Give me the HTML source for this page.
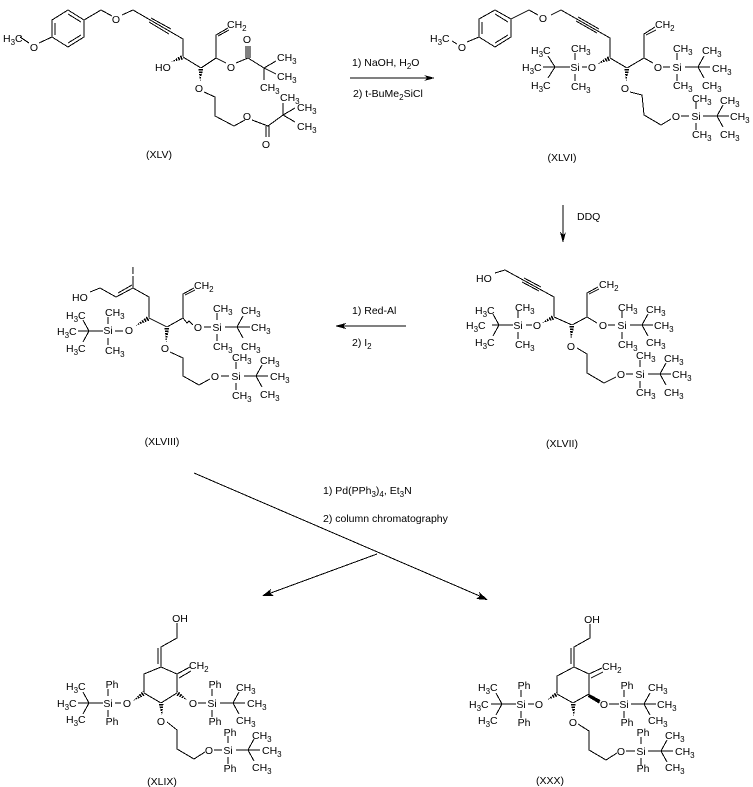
<!DOCTYPE html>
<html><head><meta charset="utf-8"><style>
html,body{margin:0;padding:0;background:#fff;width:753px;height:787px;overflow:hidden}
svg{display:block}
path.b{fill:none;stroke:#000;stroke-width:1;shape-rendering:crispEdges}
polygon{shape-rendering:crispEdges}
text{font-family:"Liberation Sans",sans-serif;font-size:10.5px;fill:#000;stroke:none}
tspan.s{font-size:8px}
text.m{text-anchor:middle}
.w{stroke:#fff;stroke-width:7;stroke-dasharray:1 1.6;fill:none;shape-rendering:crispEdges}
</style></head><body>
<svg width="753" height="787" viewBox="0 0 753 787" xmlns="http://www.w3.org/2000/svg">
<rect width="753" height="787" fill="#fff"/>

<!-- XLV -->
<path class="b" d="M52 20L68 10L84 20V37L68 47L52 37ZM55 23V35M68 14L81 22M68 43L81 35M20 37L29 43M39 43L52 37M84 20L101 10L112 16M122 15L133 10L183 39V57L201 68L216 58V35L228 28M218 36L229 30M151 18L171 29M149 22L169 34M216 58L226 63M236 63L248 58V46M246 58V46M250 58V46M248 58L264 68L276 61M264 68L276 74M264 68V80M204 92L215 97V116L234 126L245 120M252 120L268 126L283 115V103M283 115L295 108M283 115L295 122M266 126V137M269 126V137"/>
<polygon points="184,59.300 182,54.700 171,62"/><line class="w" x1="183" y1="57" x2="171" y2="62"/>
<polygon points="198.500,68 203.500,68 200,82"/><line class="w" x1="201" y1="68" x2="200" y2="82"/>
<text x="3" y="42">H<tspan class="s" dy="3">3</tspan><tspan dy="-3">C</tspan></text>
<text class="m" x="34" y="51">O</text><text class="m" x="116" y="23">O</text>
<text x="227" y="28">CH<tspan class="s" dy="3">2</tspan></text>
<text x="155" y="71">HO</text>
<text class="m" x="231" y="71">O</text><text class="m" x="247" y="43">O</text>
<text x="277" y="61">CH<tspan class="s" dy="3">3</tspan></text>
<text x="277" y="80">CH<tspan class="s" dy="3">3</tspan></text>
<text x="260" y="91">CH<tspan class="s" dy="3">3</tspan></text>
<text class="m" x="199" y="92">O</text>
<text class="m" x="247" y="120">O</text>
<text class="m" x="266" y="148">O</text>
<text x="280" y="101">CH<tspan class="s" dy="3">3</tspan></text>
<text x="297" y="111">CH<tspan class="s" dy="3">3</tspan></text>
<text x="297" y="130">CH<tspan class="s" dy="3">3</tspan></text>
<text class="m" x="159" y="158">(XLV)</text>

<!-- arrow 1 -->
<path class="b" d="M350 78H430"/><polygon points="435,78 424,75 427,78 424,81"/>
<text x="352" y="66">1) NaOH, H<tspan class="s" dy="3">2</tspan><tspan dy="-3">O</tspan></text>
<text x="353" y="97">2) t-BuMe<tspan class="s" dy="3">2</tspan><tspan dy="-3">SiCl</tspan></text>

<!-- XLVI -->
<path class="b" d="M479 19L495 10L511 19V37L495 47L479 37ZM482 22V34M495 14L508 22M495 43L508 35M452 41L457 44M467 42L479 37M511 19L529 10L538 15M551 15L561 10L610 38V58L627 68L644 58V34L655 27M646 35L656 30M578 17L599 29M576 21L597 33M644 58L653 63M630 92L642 95L644 115L661 125L671 119M663 67H670M677 53V60M677 74V81M685 67H698M698 67L704 56M698 67L704 78M698 67H710M582 67H587M570 67H543M555 67L548 56M555 67L548 78M575 53V60M575 74V81M681 116H689M696 102V109M696 123V130M703 116H717M717 116L723 105M717 116L723 127M717 116H729"/>
<polygon points="611,60.300 609,55.700 597,64"/><line class="w" x1="610" y1="58" x2="597" y2="64"/>
<polygon points="624.500,68 629.500,68 626,82"/><line class="w" x1="627" y1="68" x2="626" y2="82"/>
<text x="430" y="42">H<tspan class="s" dy="3">3</tspan><tspan dy="-3">C</tspan></text>
<text class="m" x="462" y="51">O</text><text class="m" x="543" y="22">O</text>
<text x="655" y="28">CH<tspan class="s" dy="3">2</tspan></text>
<text x="531" y="54">H<tspan class="s" dy="3">3</tspan><tspan dy="-3">C</tspan></text>
<text x="522" y="71">H<tspan class="s" dy="3">3</tspan><tspan dy="-3">C</tspan></text>
<text x="531" y="89">H<tspan class="s" dy="3">3</tspan><tspan dy="-3">C</tspan></text>
<text x="571" y="52">CH<tspan class="s" dy="3">3</tspan></text>
<text x="571" y="90">CH<tspan class="s" dy="3">3</tspan></text>
<text class="m" x="575" y="71">Si</text><text class="m" x="592" y="71">O</text>
<text class="m" x="658" y="71">O</text><text class="m" x="677" y="71">Si</text>
<text x="673" y="52">CH<tspan class="s" dy="3">3</tspan></text>
<text x="673" y="89">CH<tspan class="s" dy="3">3</tspan></text>
<text x="702" y="54">CH<tspan class="s" dy="3">3</tspan></text>
<text x="702" y="89">CH<tspan class="s" dy="3">3</tspan></text>
<text x="712" y="72">CH<tspan class="s" dy="3">3</tspan></text>
<text class="m" x="625" y="92">O</text>
<text class="m" x="676" y="120">O</text><text class="m" x="696" y="120">Si</text>
<text x="692" y="102">CH<tspan class="s" dy="3">3</tspan></text>
<text x="692" y="138">CH<tspan class="s" dy="3">3</tspan></text>
<text x="720" y="104">CH<tspan class="s" dy="3">3</tspan></text>
<text x="730" y="120">CH<tspan class="s" dy="3">3</tspan></text>
<text x="720" y="138">CH<tspan class="s" dy="3">3</tspan></text>
<text class="m" x="562" y="161">(XLVI)</text>

<!-- arrow 2 -->
<path class="b" d="M563 205V238"/><polygon points="563,243 560,232 563,235 566,232"/>
<text x="577" y="220">DDQ</text>

<!-- XLVII -->
<path class="b" d="M495 273L505 270L554 297V317L572 325L587 317V293L598 287M589 294L599 289M524 278L541 287M522 282L539 291M587 317L597 323M577 348L587 354V373L604 383L616 377M492 325H513M526 325H532M518 311V318M518 332V339M499 325L493 314M499 325L493 336M608 325H615M622 311V318M622 332V339M630 325H653M642 325L648 314M642 325L648 336M626 374H633M640 360V367M640 381V388M648 374H671M660 374L666 363M660 374L666 385"/>
<polygon points="555,319.300 553,314.700 542,323"/><line class="w" x1="554" y1="317" x2="542" y2="323"/>
<polygon points="569.500,325 574.500,325 571,340"/><line class="w" x1="572" y1="325" x2="571" y2="340"/>
<text x="476" y="282">HO</text>
<text x="599" y="288">CH<tspan class="s" dy="3">2</tspan></text>
<text x="475" y="314">H<tspan class="s" dy="3">3</tspan><tspan dy="-3">C</tspan></text>
<text x="466" y="329">H<tspan class="s" dy="3">3</tspan><tspan dy="-3">C</tspan></text>
<text x="475" y="346">H<tspan class="s" dy="3">3</tspan><tspan dy="-3">C</tspan></text>
<text x="515" y="311">CH<tspan class="s" dy="3">3</tspan></text>
<text x="515" y="348">CH<tspan class="s" dy="3">3</tspan></text>
<text class="m" x="518" y="329">Si</text><text class="m" x="537" y="329">O</text>
<text class="m" x="603" y="329">O</text><text class="m" x="622" y="329">Si</text>
<text x="618" y="311">CH<tspan class="s" dy="3">3</tspan></text>
<text x="618" y="348">CH<tspan class="s" dy="3">3</tspan></text>
<text x="646" y="313">CH<tspan class="s" dy="3">3</tspan></text>
<text x="654" y="329">CH<tspan class="s" dy="3">3</tspan></text>
<text x="646" y="346">CH<tspan class="s" dy="3">3</tspan></text>
<text class="m" x="571" y="350">O</text>
<text class="m" x="621" y="378">O</text><text class="m" x="640" y="378">Si</text>
<text x="636" y="359">CH<tspan class="s" dy="3">3</tspan></text>
<text x="636" y="396">CH<tspan class="s" dy="3">3</tspan></text>
<text x="664" y="362">CH<tspan class="s" dy="3">3</tspan></text>
<text x="672" y="378">CH<tspan class="s" dy="3">3</tspan></text>
<text x="664" y="396">CH<tspan class="s" dy="3">3</tspan></text>
<text class="m" x="562" y="447">(XLVII)</text>

<!-- arrow 3 -->
<path class="b" d="M406 326H340"/><polygon points="335,326 346,323 343,326 346,329"/>
<text x="352" y="314">1) Red-Al</text>
<text x="352" y="346">2) I<tspan class="s" dy="3">2</tspan></text>

<!-- XLVIII -->
<path class="b" d="M90 292L100 288L116 297L133 288L149 297V318L167 327L183 318V294L194 288M185 295L195 290M118 293L132 285M133 276V288M183 318L187 323L189 321L193 325M170 352L183 358V376L199 385L210 379M78 331H103M89 331L83 320M89 331L83 342M115 331H123M108 317V324M108 338V345M204 327H211M217 313V320M217 334V341M225 327H250M237 327L243 316M237 327L243 338M221 376H229M236 362V369M236 383V390M244 376H268M256 376L262 365M256 376L262 387"/>
<polygon points="150,320.300 148,315.700 135,326"/><line class="w" x1="149" y1="318" x2="135" y2="326"/>
<polygon points="164.500,327 169.500,327 166,343"/><line class="w" x1="167" y1="327" x2="166" y2="343"/>
<text x="72" y="301">HO</text>
<text class="m" x="133" y="274">I</text>
<text x="194" y="289">CH<tspan class="s" dy="3">2</tspan></text>
<text x="66" y="319">H<tspan class="s" dy="3">3</tspan><tspan dy="-3">C</tspan></text>
<text x="57" y="335">H<tspan class="s" dy="3">3</tspan><tspan dy="-3">C</tspan></text>
<text x="66" y="352">H<tspan class="s" dy="3">3</tspan><tspan dy="-3">C</tspan></text>
<text x="105" y="316">CH<tspan class="s" dy="3">3</tspan></text>
<text x="105" y="354">CH<tspan class="s" dy="3">3</tspan></text>
<text class="m" x="108" y="334">Si</text><text class="m" x="129" y="334">O</text>
<text class="m" x="198" y="331">O</text><text class="m" x="217" y="331">Si</text>
<text x="213" y="312">CH<tspan class="s" dy="3">3</tspan></text>
<text x="213" y="350">CH<tspan class="s" dy="3">3</tspan></text>
<text x="241" y="314">CH<tspan class="s" dy="3">3</tspan></text>
<text x="251" y="331">CH<tspan class="s" dy="3">3</tspan></text>
<text x="241" y="350">CH<tspan class="s" dy="3">3</tspan></text>
<text class="m" x="165" y="352">O</text>
<text class="m" x="215" y="380">O</text><text class="m" x="236" y="380">Si</text>
<text x="232" y="361">CH<tspan class="s" dy="3">3</tspan></text>
<text x="232" y="399">CH<tspan class="s" dy="3">3</tspan></text>
<text x="260" y="364">CH<tspan class="s" dy="3">3</tspan></text>
<text x="270" y="380">CH<tspan class="s" dy="3">3</tspan></text>
<text x="260" y="398">CH<tspan class="s" dy="3">3</tspan></text>
<text class="m" x="162" y="445">(XLVIII)</text>

<!-- big arrows -->
<path class="b" d="M194 473L482 597M377 554L268 594"/>
<polygon points="488,600 476,599 480,596 479,592"/>
<polygon points="262,596 271,589 270,593 274,596"/>
<text x="323" y="494">1) Pd(PPh<tspan class="s" dy="3">3</tspan><tspan dy="-3">)</tspan><tspan class="s" dy="3">4</tspan><tspan dy="-3">, Et</tspan><tspan class="s" dy="3">3</tspan><tspan dy="-3">N</tspan></text>
<text x="323" y="522">2) column chromatography</text>

<!-- XLIX -->
<path class="b" d="M177 623V638L161 647V667L177 674V693L161 703L144 693V674L161 667M158 648V664M177 674L190 667M179 678L191 671M167 722L177 730V749L194 759L205 752M78 703H103M89 703L83 692M89 703L83 714M115 703H121M108 689V696M108 710V717M198 703H206M212 689V696M212 710V717M220 703H245M233 703L239 692M233 703L239 714M214 750H222M228 736V743M228 757V764M236 750H260M248 750L254 739M248 750L254 761"/>
<polygon points="145,695.300 143,690.700 133,701"/><line class="w" x1="144" y1="693" x2="133" y2="701"/>
<polygon points="176,695.300 178,690.700 187,700"/><line class="w" x1="177" y1="693" x2="187" y2="700"/>
<polygon points="158.500,703 163.500,703 162,716"/><line class="w" x1="161" y1="703" x2="162" y2="716"/>
<text class="m" x="180" y="622">OH</text>
<text x="189" y="669">CH<tspan class="s" dy="3">2</tspan></text>
<text x="66" y="690">H<tspan class="s" dy="3">3</tspan><tspan dy="-3">C</tspan></text>
<text x="57" y="707">H<tspan class="s" dy="3">3</tspan><tspan dy="-3">C</tspan></text>
<text x="66" y="723">H<tspan class="s" dy="3">3</tspan><tspan dy="-3">C</tspan></text>
<text class="m" x="112" y="688">Ph</text><text class="m" x="112" y="725">Ph</text>
<text class="m" x="108" y="707">Si</text><text class="m" x="127" y="707">O</text>
<text class="m" x="193" y="707">O</text><text class="m" x="212" y="707">Si</text>
<text class="m" x="215" y="688">Ph</text><text class="m" x="215" y="725">Ph</text>
<text x="236" y="691">CH<tspan class="s" dy="3">3</tspan></text>
<text x="247" y="707">CH<tspan class="s" dy="3">3</tspan></text>
<text x="236" y="724">CH<tspan class="s" dy="3">3</tspan></text>
<text class="m" x="161" y="725">O</text>
<text class="m" x="209" y="754">O</text><text class="m" x="228" y="754">Si</text>
<text class="m" x="230" y="736">Ph</text><text class="m" x="230" y="772">Ph</text>
<text x="252" y="739">CH<tspan class="s" dy="3">3</tspan></text>
<text x="262" y="754">CH<tspan class="s" dy="3">3</tspan></text>
<text x="252" y="771">CH<tspan class="s" dy="3">3</tspan></text>
<text class="m" x="162" y="785">(XLIX)</text>

<!-- XXX -->
<path class="b" d="M590 624V638L574 647V667L589 674V694L573 703L557 694V676L574 667M571 648V664M589 674L602 668M591 678L603 672M578 724L589 731V750L606 760L617 753M491 704H516M502 704L496 693M502 704L496 715M528 704H534M521 690V697M521 711V718M609 704H619M624 690V697M624 711V718M631 704H656M644 704L650 693M644 704L650 715M626 751H635M641 737V744M641 758V765M648 751H673M661 751L667 740M661 751L667 762"/>
<polygon points="558,696.300 556,691.700 547,700"/><line class="w" x1="557" y1="694" x2="547" y2="700"/>
<polygon points="589,694 588,697 599,703.500 600.500,700"/>
<polygon points="570.500,703 575.500,703 574,717"/><line class="w" x1="573" y1="703" x2="574" y2="717"/>
<text class="m" x="592" y="623">OH</text>
<text x="602" y="670">CH<tspan class="s" dy="3">2</tspan></text>
<text x="478" y="691">H<tspan class="s" dy="3">3</tspan><tspan dy="-3">C</tspan></text>
<text x="469" y="708">H<tspan class="s" dy="3">3</tspan><tspan dy="-3">C</tspan></text>
<text x="478" y="724">H<tspan class="s" dy="3">3</tspan><tspan dy="-3">C</tspan></text>
<text class="m" x="524" y="689">Ph</text><text class="m" x="524" y="726">Ph</text>
<text class="m" x="521" y="708">Si</text><text class="m" x="539" y="708">O</text>
<text class="m" x="604" y="708">O</text><text class="m" x="624" y="708">Si</text>
<text class="m" x="627" y="689">Ph</text><text class="m" x="627" y="726">Ph</text>
<text x="648" y="691">CH<tspan class="s" dy="3">3</tspan></text>
<text x="657" y="708">CH<tspan class="s" dy="3">3</tspan></text>
<text x="648" y="724">CH<tspan class="s" dy="3">3</tspan></text>
<text class="m" x="573" y="726">O</text>
<text class="m" x="621" y="755">O</text><text class="m" x="641" y="755">Si</text>
<text class="m" x="643" y="736">Ph</text><text class="m" x="643" y="772">Ph</text>
<text x="665" y="739">CH<tspan class="s" dy="3">3</tspan></text>
<text x="675" y="755">CH<tspan class="s" dy="3">3</tspan></text>
<text x="665" y="771">CH<tspan class="s" dy="3">3</tspan></text>
<text class="m" x="550" y="784">(XXX)</text>
</svg>
</body></html>
